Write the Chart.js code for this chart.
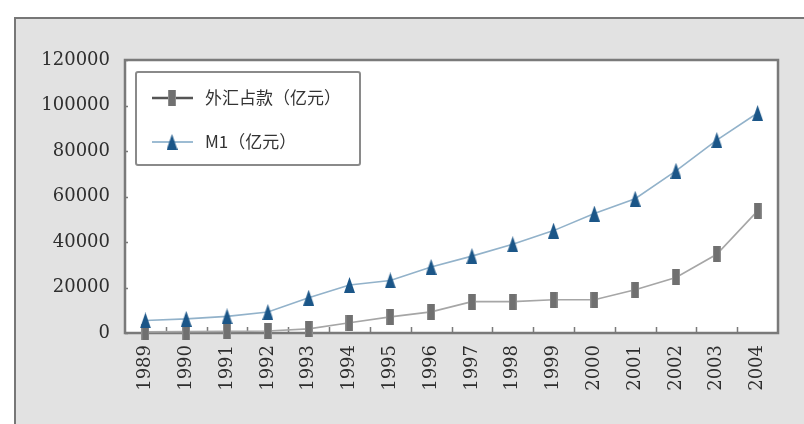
<!DOCTYPE html>
<html>
<head>
<meta charset="utf-8">
<script src="https://cdn.jsdelivr.net/npm/chart.js@4"></script>
<style>
  html, body { margin: 0; padding: 0; background: #fff; }
  #wrap { width: 804px; height: 424px; }
</style>
</head>
<body>
<div id="wrap"><canvas id="c" width="804" height="424"></canvas></div>
<script>
// Years on the category axis
const years = ['1989','1990','1991','1992','1993','1994','1995','1996',
               '1997','1998','1999','2000','2001','2002','2003','2004'];
// 外汇占款, 亿元
const fxHoldings = [500, 600, 700, 900, 1800, 4500, 7100, 9300,
                    13800, 13800, 14600, 14600, 19000, 24400, 34600, 53700];
// M1, 亿元
const m1Supply = [5500, 6200, 7300, 9200, 15500, 21100, 23100, 29000,
                  33800, 39000, 45000, 52500, 59000, 71300, 84800, 96700];
// Value-axis tick labels
const yTicks = [0, 20000, 40000, 60000, 80000, 100000, 120000];
const seriesNames = ['外汇占款（亿元）', 'M1（亿元）'];

// Marker shapes: tall grey block and tall blue triangle
function makeBlock() {
  const c = document.createElement('canvas');
  c.width = 8; c.height = 16;
  const g = c.getContext('2d');
  g.fillStyle = '#707070';
  g.fillRect(0, 0, 8, 16);
  g.fillStyle = '#8c8c8c';
  g.fillRect(0, 0, 1, 16);
  g.fillRect(7, 0, 1, 16);
  return c;
}
function makeTriangle() {
  const c = document.createElement('canvas');
  c.width = 11; c.height = 16;
  const g = c.getContext('2d');
  g.beginPath();
  g.moveTo(5.5, 0); g.lineTo(11, 16); g.lineTo(0, 16); g.closePath();
  g.fillStyle = '#1b5688';
  g.fill();
  return c;
}
const blockMark = makeBlock();
const triMark = makeTriangle();

const serif = '"DejaVu Serif", "Liberation Serif", serif';
const cjk = '"Noto Sans CJK SC", "DejaVu Serif", sans-serif';

const framePlugin = {
  id: 'frame',
  beforeDraw(chart) {
    const { ctx, chartArea: a } = chart;
    ctx.save();
    ctx.fillStyle = '#ffffff';
    ctx.fillRect(0, 0, chart.width, chart.height);
    ctx.fillStyle = '#e2e2e2';
    ctx.fillRect(14, 17, chart.width - 14, chart.height - 17);
    ctx.strokeStyle = '#777777';
    ctx.lineWidth = 2;
    ctx.beginPath();
    ctx.moveTo(15, chart.height); ctx.lineTo(15, 18); ctx.lineTo(chart.width, 18);
    ctx.stroke();
    ctx.fillStyle = '#ffffff';
    ctx.fillRect(a.left, a.top, a.right - a.left, a.bottom - a.top);
    ctx.restore();
  },
  beforeDatasetsDraw(chart) {
    const { ctx, chartArea: a, scales } = chart;
    ctx.save();
    ctx.strokeStyle = '#7a7a7a';
    ctx.lineWidth = 2.5;
    ctx.strokeRect(a.left, a.top, a.right - a.left, a.bottom - a.top);
    // inner tick marks between categories
    ctx.lineWidth = 1.5;
    const x = scales.x;
    const step = x.getPixelForValue(1) - x.getPixelForValue(0);
    ctx.beginPath();
    for (let i = 1; i < years.length; i++) {
      const px = Math.round(x.getPixelForValue(i) - step / 2) + 0.5;
      ctx.moveTo(px, a.bottom); ctx.lineTo(px, a.bottom - 6);
    }
    const y = scales.y;
    yTicks.forEach(v => {
      const py = Math.round(y.getPixelForValue(v)) + 0.5;
      ctx.moveTo(a.left, py); ctx.lineTo(a.left + 3, py);
    });
    ctx.stroke();
    ctx.restore();
  },
  afterDatasetsDraw(chart) {
    const { ctx, chartArea: a } = chart;
    const bx = a.left + 11, by = a.top + 12, bw = 224, bh = 93;
    ctx.save();
    ctx.fillStyle = '#ffffff';
    ctx.strokeStyle = '#8a8a8a';
    ctx.lineWidth = 2;
    ctx.beginPath();
    ctx.roundRect(bx, by, bw, bh, 2);
    ctx.fill(); ctx.stroke();
    const rows = [
      { y: by + 26, line: '#555555', lw: 2.5, mark: blockMark },
      { y: by + 70, line: '#9dbcd3', lw: 2, mark: triMark }
    ];
    rows.forEach((r, i) => {
      ctx.strokeStyle = r.line;
      ctx.lineWidth = r.lw;
      ctx.beginPath();
      ctx.moveTo(bx + 16, r.y); ctx.lineTo(bx + 57, r.y);
      ctx.stroke();
      ctx.drawImage(r.mark, bx + 36 - r.mark.width / 2, r.y - r.mark.height / 2);
      ctx.fillStyle = '#333333';
      ctx.font = '17px ' + cjk;
      ctx.textBaseline = 'middle';
      ctx.textAlign = 'left';
      ctx.fillText(seriesNames[i], bx + 69, r.y);
    });
    ctx.restore();
  }
};

new Chart(document.getElementById('c'), {
  type: 'line',
  data: {
    labels: years,
    datasets: [
      {
        label: seriesNames[1],
        data: m1Supply,
        borderColor: '#92b2ca',
        borderWidth: 1.6,
        pointStyle: triMark,
        pointRadius: 6,
        pointHoverRadius: 6,
        tension: 0,
        clip: false,
        order: 0
      },
      {
        label: seriesNames[0],
        data: fxHoldings,
        borderColor: '#a6a6a6',
        borderWidth: 1.6,
        pointStyle: blockMark,
        pointRadius: 6,
        pointHoverRadius: 6,
        tension: 0,
        clip: false,
        order: 1
      }
    ]
  },
  options: {
    responsive: false,
    animation: false,
    devicePixelRatio: 1,
    layout: { padding: { top: 60, right: 26, left: 0, bottom: 0 } },
    plugins: { legend: { display: false }, tooltip: { enabled: false } },
    scales: {
      x: {
        offset: true,
        grid: { display: false, drawTicks: false },
        border: { display: false },
        ticks: {
          minRotation: 90, maxRotation: 90, padding: 12,
          color: '#2e2e2e', font: { family: serif, size: 18 }
        },
        afterFit(s) { s.height = 91; }
      },
      y: {
        min: 0, max: 120000,
        grid: { display: false, drawTicks: false },
        border: { display: false },
        afterBuildTicks(s) { s.ticks = yTicks.map(v => ({ value: v })); },
        ticks: {
          padding: 15,
          color: '#2e2e2e', font: { family: serif, size: 18 },
          callback: v => String(v)
        },
        afterFit(s) { s.width = 125; }
      }
    }
  },
  plugins: [framePlugin]
});
</script>
</body>
</html>
